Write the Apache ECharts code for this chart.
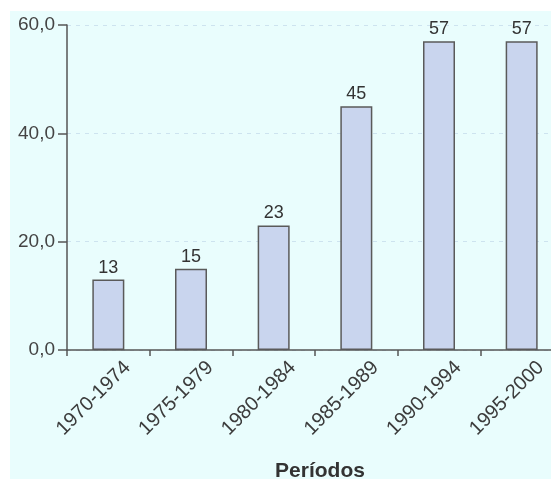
<!DOCTYPE html>
<html><head><meta charset="utf-8">
<script src="https://cdn.jsdelivr.net/npm/echarts@6/dist/echarts.min.js"></script>
<style>html,body{margin:0;padding:0;background:#fff}#c{width:551px;height:479px}</style>
</head><body><div id="c"></div>
<script>
var categories = ['1970-1974','1975-1979','1980-1984','1985-1989','1990-1994','1995-2000'];
var values = [13, 15, 23, 45, 57, 57];
var yTicks = [0, 20, 40, 60];

var FONT = 'Liberation Sans, Arial, sans-serif';
var chart = echarts.init(document.getElementById('c'), null, {renderer:'canvas'});
chart.setOption({
  backgroundColor: '#ffffff',
  animation: false,
  graphic: [{type:'rect', z:-10, shape:{x:10,y:11,width:541,height:468}, style:{fill:'#e9fdfd'}, silent:true}],
  grid: {left: 67, top: 25, width: 496, height: 325, containLabel: false, outerBoundsMode: 'none'},
  xAxis: {
    type: 'category', data: categories,
    name: 'Períodos', nameLocation: 'middle', nameGap: 111,
    nameTextStyle: {fontFamily: FONT, fontSize: 21, fontWeight: 'bold', color:'#333', padding:[0,0,0,10]},
    axisLine: {lineStyle:{color:'#555', width:1.5}},
    axisTick: {show:true, length:6, lineStyle:{color:'#555', width:1.5}},
    axisLabel: {rotate: 45, fontFamily: FONT, fontSize: 20, color:'#3c3c3c', margin: 8, interval:0,
      verticalAlign: 'top', padding:[8,-9,0,0]}
  },
  yAxis: {
    type: 'value', min: yTicks[0], max: yTicks[yTicks.length-1], interval: 20,
    axisLine: {show:true, lineStyle:{color:'#555', width:1.5}},
    axisTick: {show:true, length:9, lineStyle:{color:'#555', width:1.5}},
    axisLabel: {fontFamily: FONT, fontSize: 19, color:'#444', margin: 12,
      formatter: function(v){ return v.toFixed(1).replace('.', ','); }},
    splitLine: {show:true, lineStyle:{color:'#cde3ef', type:[4,5], width:1}}
  },
  series: [{
    type: 'bar', data: values, barWidth: 32,
    itemStyle: {color:'#c9d5ee', borderColor:'#5a5a5a', borderWidth:1.5},
    label: {show:true, position:'top', distance:3, fontFamily: FONT, fontSize:18, color:'#333'}
  }]
});
</script></body></html>
